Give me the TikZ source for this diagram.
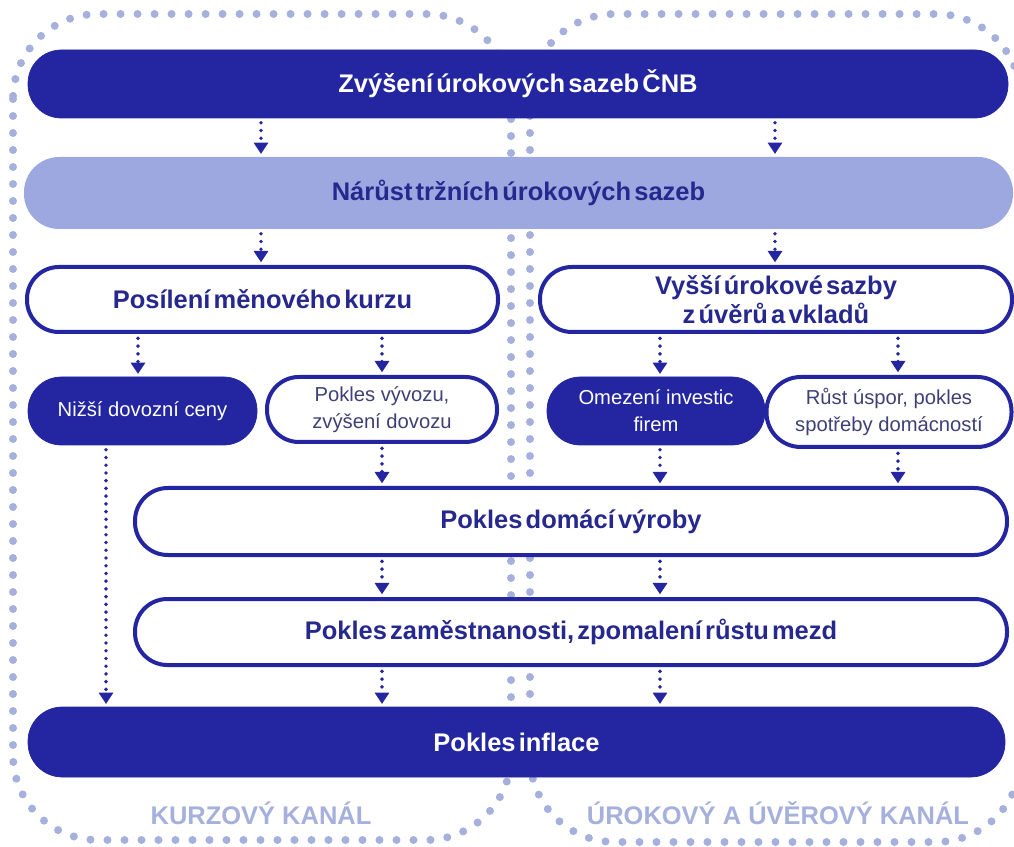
\documentclass[tikz,border=0pt]{standalone}
\usepackage{fontspec}
\setmainfont{Liberation Sans}
\newfontfamily\headfont{Liberation Sans}[WordSpace=0.45]
\usetikzlibrary{
  arrows.meta,
  positioning,  % Function "of"
}
\definecolor{cnbdark}{RGB}{35,38,160}
\definecolor{cnblight}{RGB}{156,168,223}
\definecolor{cnbdots}{RGB}{166,176,221}
\definecolor{cnbtext}{RGB}{38,40,142}
\definecolor{cnbgrey}{RGB}{62,64,118}
\def\mypx{0.02cm}
\newcommand{\bigtxt}{\headfont\bfseries\fontsize{14.5}{16.5}\selectfont}
\newcommand{\smalltxt}{\fontsize{11.5}{15.4}\selectfont}
\tikzset{
  pill/.style 2 args={
    rectangle,
    inner sep=0mm,
    align=center,
    minimum width=#1*\mypx,
    minimum height=#2*\mypx,
    rounded corners=#2*0.49*\mypx
  },
  my dark/.style={
    fill=cnbdark,
    draw=cnbdark,
    text=white
  },
  my light/.style={
    fill=cnblight,
    text=cnbtext
  },
  my white/.style={
    fill=white,
    draw=cnbdark,
    line width=4*\mypx,
    text=cnbtext
  },
  my white small/.style={
    my white,
    text=cnbgrey,
    font=\smalltxt
  },
  channel/.style={
    draw=cnbdots,
    line width=8*\mypx,
    line cap=round,
    dash pattern=on 0pt off 17*\mypx,
    rounded corners=85*\mypx
  },
  channel label/.style={
    text=cnbdots,
    font=\bfseries\fontsize{14.5}{16}\selectfont
  },
  flow/.style={
    draw=cnbdark,
    line width=2.2pt,
    line cap=round,
    dash pattern=on 0pt off 4.4pt,
    -{Triangle[width=8pt,length=6.5pt]},
    shorten <=2.5pt,
    shorten >=1.5pt
  }
}

\begin{document}
\begin{tikzpicture}[x=\mypx,y=-\mypx]
\clip (0,0) rectangle (1014,847);
\fill[white] (0,0) rectangle (1014,847);
% channels
\draw[channel] (13,14) rectangle (511,840);
\draw[channel] (530,14) rectangle (1021,842);
\node[channel label] (kurz) at (261,813) {KURZOVÝ KANÁL};
\node[channel label] (urok) at (778,813) {ÚROKOVÝ A ÚVĚROVÝ KANÁL};
% boxes
\node[pill={980}{68},my dark,font=\bigtxt] (cnb) at (518,84) {Zvýšení úrokových sazeb ČNB};
\node[pill={989}{72},my light,font=\bigtxt] (trh) at (518.5,193) {Nárůst tržních úrokových sazeb};
\node[pill={471}{65},my white,font=\bigtxt] (kurzbox) at (262.5,299.5) {Posílení měnového kurzu};
\node[pill={472}{65},my white,font=\bigtxt] (sazby) at (776,299.5) {Vyšší úrokové sazby\\z úvěrů a vkladů};
\node[pill={229}{68},my dark,font=\smalltxt] (ceny) at (142.5,411) {Nižší dovozní ceny};
\node[pill={230}{65},my white small] (vyvoz) at (382,409.5) {Pokles vývozu,\\zvýšení dovozu};
\node[pill={218}{68},my dark,font=\smalltxt] (invest) at (656,411) {Omezení investic\\firem};
\node[pill={245}{70},my white small] (uspory) at (889,412) {Růst úspor, pokles\\spotřeby domácností};
\node[pill={872}{67},my white,font=\bigtxt] (vyroba) at (571,521.5) {Pokles domácí výroby};
\node[pill={872}{66},my white,font=\bigtxt] (mzdy) at (571,632) {Pokles zaměstnanosti, zpomalení růstu mezd};
\node[pill={977}{70},my dark,font=\bigtxt] (inflace) at (516.5,742) {Pokles inflace};
% arrow columns
\coordinate (xa) at (261,0);
\coordinate (xb) at (775,0);
\coordinate (xc) at (138,0);
\coordinate (xd) at (382,0);
\coordinate (xe) at (660,0);
\coordinate (xf) at (898,0);
\coordinate (xg) at (106,0);
\foreach \a/\b/\x in {cnb/trh/xa, cnb/trh/xb, trh/kurzbox/xa, trh/sazby/xb,
  kurzbox/ceny/xc, kurzbox/vyvoz/xd, sazby/invest/xe, sazby/uspory/xf,
  vyvoz/vyroba/xd, invest/vyroba/xe, uspory/vyroba/xf,
  vyroba/mzdy/xd, vyroba/mzdy/xe, mzdy/inflace/xd, mzdy/inflace/xe,
  ceny/inflace/xg}
  \draw[flow] (\a.south -| \x) -- (\b.north -| \x);
\end{tikzpicture}
\end{document}
